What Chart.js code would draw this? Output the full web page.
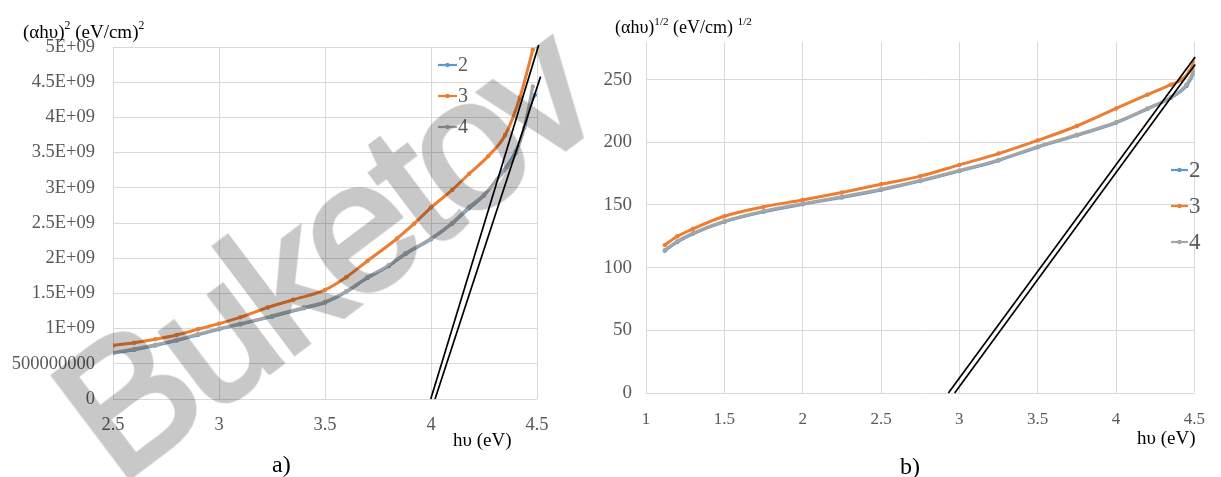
<!DOCTYPE html>
<html>
<head>
<meta charset="utf-8">
<script src="https://cdn.jsdelivr.net/npm/chart.js@4.4.1/dist/chart.umd.min.js"></script>
<style>
  html, body { margin: 0; padding: 0; background: #fff; }
  #page { position: relative; width: 1221px; height: 477px; overflow: hidden; background: #fff; }
  canvas { position: absolute; top: 0; }
  #chartA { left: 0; }
  #chartB { left: 600px; }
  .txt { position: absolute; line-height: 1; white-space: nowrap; color: #000;
         font-family: 'Liberation Serif', 'Times New Roman', serif; }
  .txt sup { font-size: 0.62em; position: relative; top: -0.2em; vertical-align: top; }
  #mark { position: absolute; left: 118px; top: 330px; font-family: 'Liberation Sans', Arial, sans-serif;
          font-size: 184px; letter-spacing: -8px; line-height: 1; color: #c8c8c8; white-space: nowrap;
          -webkit-text-stroke: 5px #c8c8c8;
          transform-origin: 0 156px; transform: rotate(-37deg); mix-blend-mode: multiply; pointer-events: none; }
</style>
</head>
<body>
<div id="page">
  <canvas id="chartA" width="600" height="477"></canvas>
  <canvas id="chartB" width="621" height="477"></canvas>

  <div class="txt" style="left:23px; top:22px; font-size:19px;">(αhυ)<sup>2</sup> (eV/cm)<sup>2</sup></div>
  <div class="txt" style="left:453px; top:430px; font-size:19px;">hυ (eV)</div>
  <div class="txt" style="left:272px; top:452px; font-size:24px;">a)</div>

  <div class="txt" style="left:615px; top:18px; font-size:18px;">(αhυ)<sup>1/2</sup> (eV/cm) <sup>1/2</sup></div>
  <div class="txt" style="left:1137px; top:428px; font-size:19px;">hυ (eV)</div>
  <div class="txt" style="left:900px; top:454px; font-size:24px;">b)</div>

  <div id="mark">Buketov</div>
</div>
<script>
// ---- data ----
const seriesNames = ['2', '3', '4']
const seriesColors = ['#5B9BD5', '#ED7D31', '#A5A5A5']

// a) (αhυ)^2 vs hυ
const aXTicks = [2.5, 3, 3.5, 4, 4.5]
const aYTicks = [0, 5e8, 1e9, 1.5e9, 2e9, 2.5e9, 3e9, 3.5e9, 4e9, 4.5e9, 5e9]
const aYLabels = ['0', '500000000', '1E+09', '1.5E+09', '2E+09', '2.5E+09', '3E+09', '3.5E+09', '4E+09', '4.5E+09', '5E+09']

const aSeries2 = [[2.5, 6.5e8], [2.6, 7.0e8], [2.7, 7.6e8], [2.8, 8.3e8], [2.9, 9.1e8], [3.0, 0.99e9],
  [3.1, 1.06e9], [3.25, 1.17e9], [3.4, 1.29e9], [3.5, 1.37e9], [3.6, 1.52e9], [3.7, 1.72e9],
  [3.8, 1.89e9], [3.88, 2.06e9], [4.0, 2.27e9], [4.1, 2.49e9], [4.18, 2.71e9], [4.25, 2.89e9],
  [4.33, 3.2e9], [4.4, 3.52e9], [4.44, 3.85e9], [4.47, 4.2e9], [4.49, 4.32e9]]
const aSeries3 = [[2.5, 7.6e8], [2.6, 8.0e8], [2.7, 8.5e8], [2.8, 9.1e8], [2.9, 9.9e8], [3.0, 1.07e9],
  [3.1, 1.16e9], [3.23, 1.30e9], [3.35, 1.41e9], [3.5, 1.55e9], [3.6, 1.73e9], [3.7, 1.96e9],
  [3.84, 2.28e9], [3.92, 2.49e9], [4.0, 2.72e9], [4.1, 2.97e9], [4.18, 3.2e9], [4.27, 3.45e9],
  [4.35, 3.75e9], [4.42, 4.29e9], [4.48, 4.96e9]]
const aSeries4 = [[2.5, 6.6e8], [2.6, 7.1e8], [2.7, 7.7e8], [2.8, 8.4e8], [2.9, 9.2e8], [3.0, 1.0e9],
  [3.1, 1.07e9], [3.25, 1.18e9], [3.4, 1.3e9], [3.5, 1.38e9], [3.6, 1.53e9], [3.7, 1.73e9],
  [3.8, 1.9e9], [3.88, 2.07e9], [4.0, 2.28e9], [4.1, 2.5e9], [4.18, 2.73e9], [4.25, 2.9e9],
  [4.31, 3.11e9], [4.36, 3.3e9], [4.4, 3.49e9], [4.44, 3.85e9], [4.48, 4.44e9]]
const aFit1 = [[3.999, 0], [4.508, 5.03e9]]
const aFit2 = [[4.019, 0], [4.517, 4.58e9]]

// b) (αhυ)^1/2 vs hυ
const bXTicks = [1, 1.5, 2, 2.5, 3, 3.5, 4, 4.5]
const bYTicks = [0, 50, 100, 150, 200, 250]

const bSeries2 = [[1.12, 113.5], [1.2, 120.5], [1.3, 127], [1.5, 136.5], [1.75, 144.5], [2.0, 150.5],
  [2.25, 156], [2.5, 162], [2.75, 169], [3.0, 177], [3.25, 185.5], [3.5, 196], [3.75, 205.5],
  [4.0, 215.5], [4.2, 226.5], [4.35, 235.5], [4.45, 245], [4.5, 256]]
const bSeries3 = [[1.12, 118], [1.2, 125], [1.3, 131], [1.5, 141], [1.75, 148.5], [2.0, 154],
  [2.25, 160], [2.5, 166.5], [2.75, 173], [3.0, 182], [3.25, 191], [3.5, 201.5], [3.75, 213],
  [4.0, 227], [4.2, 238], [4.35, 246], [4.42, 250], [4.47, 257], [4.5, 265]]
const bSeries4 = [[1.12, 114], [1.2, 121], [1.3, 127.5], [1.5, 137], [1.75, 145], [2.0, 151],
  [2.25, 156.5], [2.5, 162.5], [2.75, 169.5], [3.0, 177.5], [3.25, 186], [3.5, 196.5], [3.75, 206],
  [4.0, 216], [4.2, 227], [4.35, 236], [4.45, 246], [4.5, 258]]
const bFit1 = [[2.93, 0], [4.505, 268]]
const bFit2 = [[2.97, 0], [4.505, 262]]

// ---- helpers ----
const SERIF = "'Liberation Serif', 'Times New Roman', serif"
const GRID = '#D9D9D9'
const TICK_TEXT = '#595959'

const toPoints = arr => arr.map(([x, y]) => ({ x, y }))

function seriesSet(points, i) {
  return {
    label: seriesNames[i],
    data: toPoints(points),
    showLine: true,
    borderColor: seriesColors[i],
    backgroundColor: seriesColors[i],
    borderWidth: 3,
    pointRadius: 2.2,
    pointBorderWidth: 0,
    cubicInterpolationMode: 'monotone',
    order: 3 - i,   // series 4 drawn over 3 over 2, like the original
  }
}

function fitSet(points) {
  return {
    data: toPoints(points),
    showLine: true,
    borderColor: '#000',
    borderWidth: 1.7,
    pointRadius: 0,
    clip: false,
    order: 0,
  }
}

// legend drawn inside the plot, Excel style: short line + dot + number
const insideLegend = {
  id: 'insideLegend',
  afterDatasetsDraw(chart, args, opts) {
    const { ctx } = chart
    ctx.save()
    seriesNames.forEach((name, i) => {
      const y = opts.y + i * opts.gap
      ctx.strokeStyle = seriesColors[i]
      ctx.lineWidth = 2.2
      ctx.beginPath()
      ctx.moveTo(opts.x, y)
      ctx.lineTo(opts.x + opts.len, y)
      ctx.stroke()
      ctx.fillStyle = seriesColors[i]
      ctx.beginPath()
      ctx.arc(opts.x + opts.len / 2, y, 2.2, 0, Math.PI * 2)
      ctx.fill()
      ctx.fillStyle = TICK_TEXT
      ctx.font = `${opts.size}px ${SERIF}`
      ctx.textBaseline = 'middle'
      ctx.textAlign = 'left'
      ctx.fillText(name, opts.x + opts.len + 1, y + 1)
    })
    ctx.restore()
  }
}

function axis(min, max, ticks, o) {
  return {
    type: 'linear',
    min, max,
    afterBuildTicks: s => { s.ticks = ticks.map(v => ({ value: v })) },
    afterFit: s => { if (o.width) s.width = o.width; if (o.height) s.height = o.height },
    grid: { color: GRID, lineWidth: 1, drawTicks: false },
    border: { display: false },
    ticks: {
      color: TICK_TEXT,
      font: { family: SERIF, size: o.size },
      padding: o.padding,
      maxRotation: 0,
      autoSkip: false,
      callback: o.labels ? (v => o.labels[ticks.indexOf(v)]) : (v => String(v)),
    },
  }
}

function makeChart(id, datasets, scales, padding, legend) {
  return new Chart(document.getElementById(id), {
    type: 'scatter',
    data: { datasets },
    options: {
      responsive: false,
      animation: false,
      devicePixelRatio: 1,
      layout: { padding },
      scales,
      plugins: {
        legend: { display: false },
        tooltip: { enabled: false },
        insideLegend: legend,
      },
    },
    plugins: [insideLegend],
  })
}

makeChart('chartA',
  [seriesSet(aSeries2, 0), seriesSet(aSeries3, 1), seriesSet(aSeries4, 2), fitSet(aFit1), fitSet(aFit2)],
  {
    x: axis(2.5, 4.5, aXTicks, { height: 40, size: 18.5, padding: 15 }),
    y: axis(0, 5e9, aYTicks, { width: 113, size: 18.5, padding: 18, labels: aYLabels }),
  },
  { left: 0, right: 63, top: 47, bottom: 38 },
  { x: 438, y: 65, gap: 31, len: 19, size: 20 }
)

makeChart('chartB',
  [seriesSet(bSeries2, 0), seriesSet(bSeries3, 1), seriesSet(bSeries4, 2), fitSet(bFit1), fitSet(bFit2)],
  {
    x: axis(1, 4.5, bXTicks, { height: 40, size: 17, padding: 16 }),
    y: axis(0, 280, bYTicks, { width: 46, size: 19, padding: 14 }),
  },
  { left: 0, right: 12, top: 42, bottom: 44 },
  { x: 571, y: 170, gap: 36, len: 17, size: 23 }
)
</script>
</body>
</html>
